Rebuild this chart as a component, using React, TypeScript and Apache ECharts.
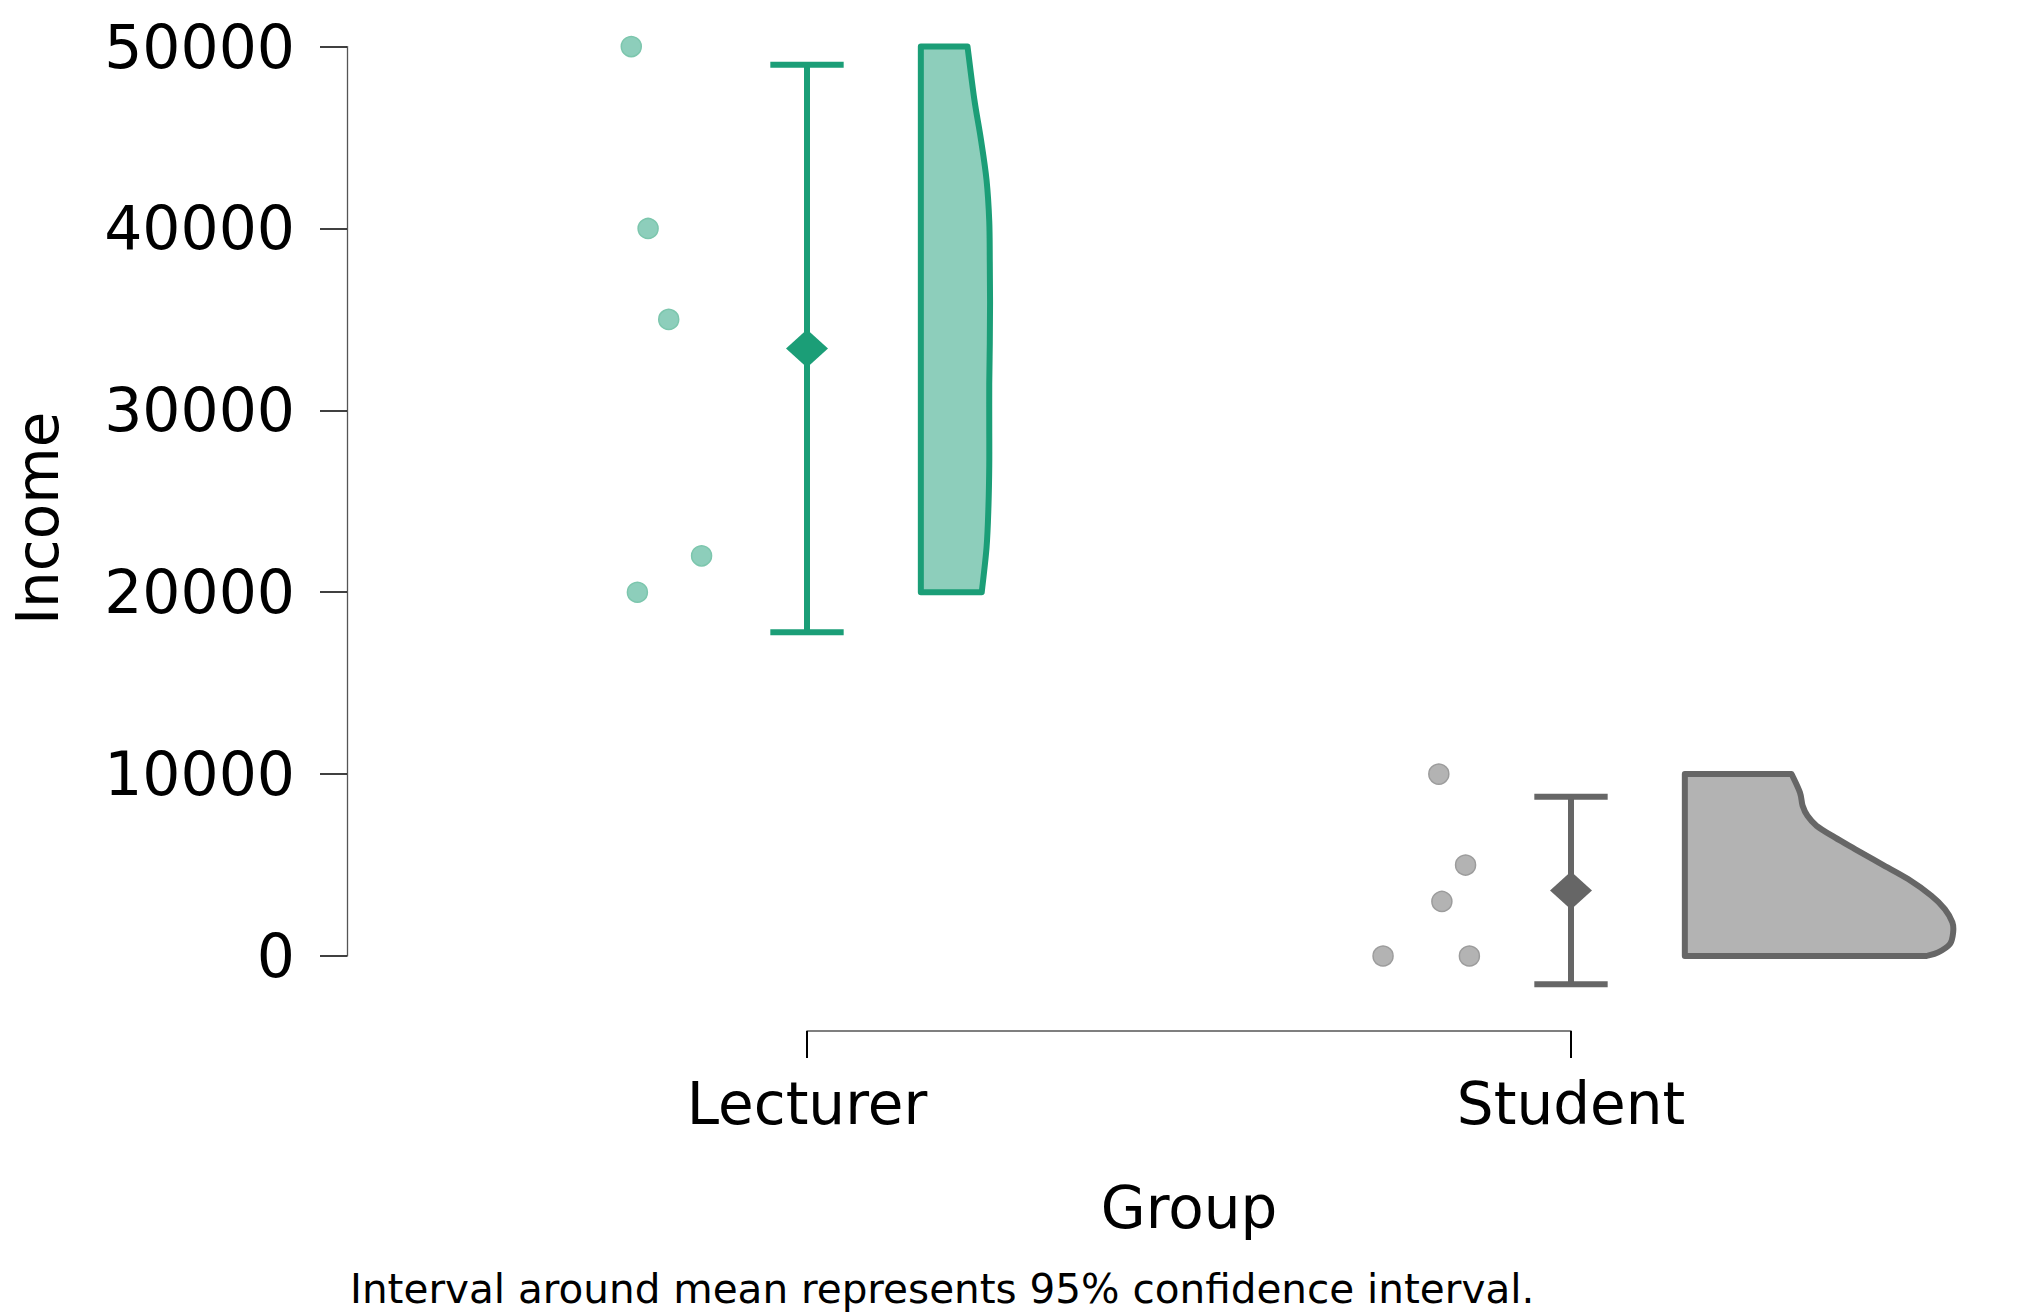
import React, { useEffect, useRef } from "react";
import * as echarts from "echarts";

// ---------- data ----------
const categories = ["Lecturer", "Student"];

const lecturerIncome = [50000, 40000, 35000, 22000, 20000];
const lecturerJitter = [-0.23, -0.208, -0.181, -0.138, -0.222];

const studentIncome = [10000, 5000, 3000, 0, 0];
const studentJitter = [-0.173, -0.138, -0.169, -0.246, -0.133];

const means = [33400, 3600];
const ciLower = [17800, -1560];
const ciUpper = [49000, 8760];

const lecturerDensityY = [50000, 47130, 44890, 42650, 40400, 38160, 35920, 33680, 31440, 29190, 26950, 24710, 22470, 20000];
const lecturerDensity = [0.174, 0.199, 0.224, 0.245, 0.255, 0.257, 0.258, 0.257, 0.255, 0.255, 0.255, 0.252, 0.245, 0.227];

const studentDensityY = [10000, 8990, 8260, 7710, 7160, 6520, 5880, 5050, 4230, 3310, 2580, 1850, 1300, 660, 200, 0];
const studentDensity = [0.398, 0.429, 0.439, 0.457, 0.491, 0.559, 0.634, 0.733, 0.832, 0.919, 0.969, 0.997, 1.0, 0.988, 0.944, 0.901];

const yTicks = [0, 10000, 20000, 30000, 40000, 50000];
const footnote = "Interval around mean represents 95% confidence interval.";

// ---------- styles ----------
const FONT = '"DejaVu Sans", sans-serif';
const strokeColors = ["#1b9e77", "#666666"];
const fillColors = ["#8dcebb", "#b3b3b3"];
const pointBorders = ["#7cc6ad", "#9c9c9c"];
const violinOffset = 0.149;
const violinScale = 0.3512;
const capHalf = 0.048;

function catmullPath(pts: number[][]): string {
  let d = "";
  for (let i = 0; i < pts.length - 1; i++) {
    const p0 = pts[i - 1] || pts[i];
    const p1 = pts[i];
    const p2 = pts[i + 1];
    const p3 = pts[i + 2] || p2;
    const c1x = p1[0] + (p2[0] - p0[0]) / 6;
    const c1y = p1[1] + (p2[1] - p0[1]) / 6;
    const c2x = p2[0] - (p3[0] - p1[0]) / 6;
    const c2y = p2[1] - (p3[1] - p1[1]) / 6;
    d += ` C${c1x},${c1y} ${c2x},${c2y} ${p2[0]},${p2[1]}`;
  }
  return d;
}

export default function App() {
  const ref = useRef<HTMLDivElement>(null);

  useEffect(() => {
    if (!ref.current) return;
    const chart = echarts.init(ref.current, undefined, { renderer: "svg" });

    const densY = [lecturerDensityY, studentDensityY];
    const dens = [lecturerDensity, studentDensity];

    const option: any = {
      animation: false,
      backgroundColor: "#ffffff",
      grid: { left: 807, right: 460, top: 46.6, bottom: 356 },
      xAxis: {
        type: "value",
        min: 1,
        max: 2,
        interval: 1,
        offset: 75,
        axisLine: { show: true, onZero: false, lineStyle: { color: "#555555", width: 1.5 } },
        axisTick: { show: true, length: 27, lineStyle: { color: "#000000", width: 2 } },
        axisLabel: {
          showMinLabel: true,
          showMaxLabel: true,
          formatter: (v: number) => categories[Math.round(v) - 1] ?? "",
          fontSize: 58,
          fontFamily: FONT,
          color: "#000000",
          margin: 44,
        },
        splitLine: { show: false },
        name: "Group",
        nameLocation: "middle",
        nameGap: 148,
        nameTextStyle: { fontSize: 58, fontFamily: FONT, color: "#000000" },
      },
      yAxis: {
        type: "value",
        min: yTicks[0],
        max: yTicks[yTicks.length - 1],
        interval: yTicks[1] - yTicks[0],
        offset: 460,
        axisLine: { show: true, onZero: false, lineStyle: { color: "#555555", width: 1.3 } },
        axisTick: { show: true, length: 27, lineStyle: { color: "#000000", width: 1.5 } },
        axisLabel: {
          formatter: (v: number) => String(v),
          fontSize: 60,
          fontFamily: FONT,
          color: "#000000",
          margin: 52,
        },
        splitLine: { show: false },
        name: "Income",
        nameLocation: "middle",
        nameGap: 280,
        nameTextStyle: { fontSize: 58, fontFamily: FONT, color: "#000000", padding: [0, 34, 0, 0] },
      },
      graphic: [
        {
          type: "text",
          x: 350,
          y: 1289,
          style: {
            text: footnote,
            fontSize: 40.5,
            fontFamily: FONT,
            fill: "#000000",
            align: "left",
            verticalAlign: "middle",
          },
        },
      ],
      series: [
        {
          type: "custom",
          name: "density",
          clip: false,
          z: 2,
          data: categories.map((_, i) => [i + 1, densY[i][densY[i].length - 1], densY[i][0]]),
          encode: { x: 0, y: [1, 2] },
          renderItem: (params: any, api: any) => {
            const idx = params.dataIndex;
            const cx = api.value(0);
            const x0 = cx + violinOffset;
            const ys = densY[idx];
            const ds = dens[idx];
            const pts = ys.map((y: number, j: number) => api.coord([x0 + ds[j] * violinScale, y]));
            const tl = api.coord([x0, ys[0]]);
            const bl = api.coord([x0, ys[ys.length - 1]]);
            const d =
              `M${bl[0]},${bl[1]} L${tl[0]},${tl[1]} L${pts[0][0]},${pts[0][1]}` +
              catmullPath(pts) +
              ` Z`;
            return {
              type: "path",
              shape: { pathData: d },
              style: {
                fill: fillColors[idx],
                stroke: strokeColors[idx],
                lineWidth: 6,
                lineJoin: "round",
              },
            };
          },
        },
        {
          type: "scatter",
          name: "Lecturer points",
          clip: false,
          z: 3,
          symbolSize: 20,
          itemStyle: { color: fillColors[0], borderColor: pointBorders[0], borderWidth: 1.5, opacity: 1 },
          data: lecturerIncome.map((v, i) => [1 + lecturerJitter[i], v]),
        },
        {
          type: "scatter",
          name: "Student points",
          clip: false,
          z: 3,
          symbolSize: 20,
          itemStyle: { color: fillColors[1], borderColor: pointBorders[1], borderWidth: 1.5, opacity: 1 },
          data: studentIncome.map((v, i) => [2 + studentJitter[i], v]),
        },
        {
          type: "custom",
          name: "CI",
          clip: false,
          z: 4,
          data: categories.map((_, i) => [i + 1, ciLower[i], ciUpper[i]]),
          encode: { x: 0, y: [1, 2] },
          renderItem: (params: any, api: any) => {
            const idx = params.dataIndex;
            const x = api.value(0);
            const lo = api.coord([x, api.value(1)]);
            const hi = api.coord([x, api.value(2)]);
            const capL = api.coord([x - capHalf, api.value(1)])[0];
            const capR = api.coord([x + capHalf, api.value(1)])[0];
            const st = { stroke: strokeColors[idx], lineWidth: 6 };
            return {
              type: "group",
              children: [
                { type: "line", shape: { x1: lo[0], y1: lo[1], x2: hi[0], y2: hi[1] }, style: st },
                { type: "line", shape: { x1: capL, y1: hi[1], x2: capR, y2: hi[1] }, style: st },
                { type: "line", shape: { x1: capL, y1: lo[1], x2: capR, y2: lo[1] }, style: st },
              ],
            };
          },
        },
        {
          type: "scatter",
          name: "Mean",
          clip: false,
          z: 5,
          symbol: "diamond",
          symbolSize: [42, 38],
          data: means.map((m, i) => ({ value: [i + 1, m], itemStyle: { color: strokeColors[i], opacity: 1 } })),
        },
      ],
    };

    chart.setOption(option);
    return () => chart.dispose();
  }, []);

  return (
    <div
      ref={ref}
      style={{ position: "absolute", left: 0, top: 0, width: 2031, height: 1312, background: "#fff" }}
    />
  );
}
